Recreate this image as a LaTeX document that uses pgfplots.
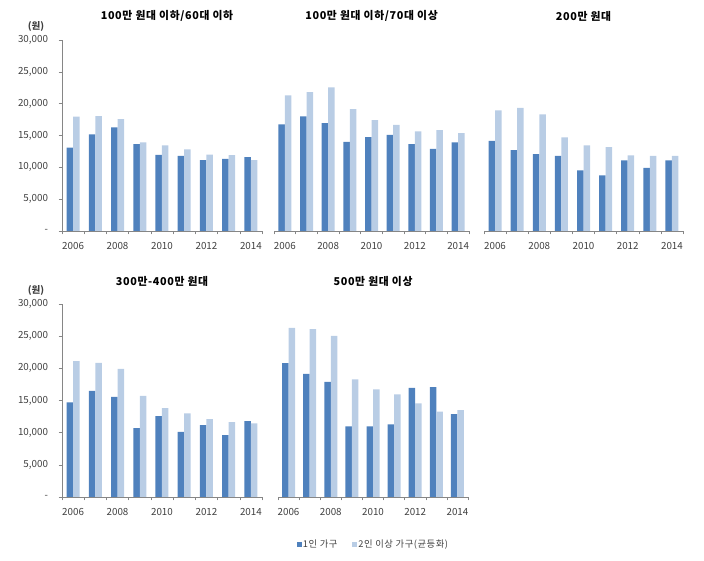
\documentclass[border=0pt]{standalone}
\usepackage{fontspec}
\setmainfont{Noto Sans CJK KR}
\newfontfamily\wide[LetterSpace=6]{Noto Sans CJK KR}
\usepackage{pgfplots}
\pgfplotsset{compat=1.18}
\definecolor{oneP}{HTML}{4F81BD}
\definecolor{twoP}{HTML}{B9CDE5}
\definecolor{axgray}{HTML}{868686}
\definecolor{txt}{HTML}{404040}

\pgfplotsset{
  panel/.style={
    scale only axis, anchor=south west,
    ybar=0pt, bar width=6.5pt,
    ymin=0, ymax=30000, xmin=-0.5, xmax=8.5,
    scaled y ticks=false,
    axis x line*=bottom,
    axis line style={draw=axgray,-},
    tick style={draw=axgray, line width=0.5pt},
    tick align=outside, major tick length=3.5pt,
    xtick={-0.5,0.5,...,8.5}, xticklabels={},
    extra x ticks={0,2,4,6,8},
    extra x tick labels={2006,2008,2010,2012,2014},
    extra x tick style={major tick length=0pt, xticklabel style={yshift=-8pt}},
    ticklabel style={font=\fontsize{9.8}{11}\selectfont, text=txt},
    title style={font=\wide\fontsize{10.8}{12}\selectfont\bfseries, at={(0.5,1)}, anchor=center, yshift=18pt},
    clip=false,
  },
  lefty/.style={
    axis y line*=left,
    ytick={0,5000,10000,15000,20000,25000,30000},
    yticklabels={-,{5,000},{10,000},{15,000},{20,000},{25,000},{30,000}},
    yticklabel style={xshift=-7pt},
  },
  noy/.style={axis y line=none, ytick=\empty},
  one/.style={fill=oneP, draw=none, legend image code/.code={\fill[oneP] (0pt,-2.5pt) rectangle (5pt,2.5pt);}},
  two/.style={fill=twoP, draw=none, legend image code/.code={\fill[twoP] (0pt,-2.5pt) rectangle (5pt,2.5pt);}},
}

\begin{document}
\begin{tikzpicture}
\path[use as bounding box] (0,0) rectangle (704pt,561pt);

% top row
\begin{axis}[panel, lefty, at={(62pt,330pt)}, width=200pt, height=191pt,
  title={100만 원대 이하/60대 이하}, title style={xshift=5pt}]
\addplot[one] coordinates {(0,13090) (1,15180) (2,16280) (3,13660) (4,11940) (5,11780) (6,11150) (7,11310) (8,11620)};
\addplot[two] coordinates {(0,17960) (1,18060) (2,17590) (3,13930) (4,13460) (5,12830) (6,11990) (7,11900) (8,11150)};
\node[font=\fontsize{9.5}{10}\selectfont\bfseries, text=txt] at (rel axis cs:0,1) [xshift=-26pt, yshift=14pt] {(원)};
\end{axis}

\begin{axis}[panel, noy, at={(274pt,330pt)}, width=195pt, height=191pt,
  title={100만 원대 이하/70대 이상}]
\addplot[one] coordinates {(0,16750) (1,18000) (2,16960) (3,13980) (4,14760) (5,15080) (6,13660) (7,12880) (8,13930)};
\addplot[two] coordinates {(0,21300) (1,21830) (2,22570) (3,19160) (4,17430) (5,16650) (6,15650) (7,15860) (8,15390)};
\end{axis}

\begin{axis}[panel, noy, at={(484pt,330pt)}, width=199pt, height=191pt,
  title={200만 원대}]
\addplot[one] coordinates {(0,14140) (1,12720) (2,12090) (3,11780) (4,9530) (5,8740) (6,11100) (7,9900) (8,11100)};
\addplot[two] coordinates {(0,18950) (1,19320) (2,18320) (3,14710) (4,13460) (5,13190) (6,11880) (7,11780) (8,11780)};
\end{axis}

% bottom row
\begin{axis}[panel, lefty, at={(62pt,64pt)}, width=200pt, height=193pt,
  title={300만-400만 원대}, title style={yshift=-1pt}]
\addplot[one] coordinates {(0,14720) (1,16480) (2,15550) (3,10710) (4,12580) (5,10140) (6,11180) (7,9620) (8,11800)};
\addplot[two] coordinates {(0,21110) (1,20850) (2,19920) (3,15700) (4,13830) (5,13000) (6,12120) (7,11650) (8,11440)};
\node[font=\fontsize{9.5}{10}\selectfont\bfseries, text=txt] at (rel axis cs:0,1) [xshift=-26pt, yshift=14pt] {(원)};
\end{axis}

\begin{axis}[panel, noy, at={(278pt,64pt)}, width=190pt, height=193pt,
  title={500만 원대 이상}, title style={yshift=-1pt},
  legend style={at={(0.5,-0.245)}, anchor=center, draw=none, fill=none,
    legend columns=2, font=\wide\fontsize{9.3}{10}\selectfont, text=txt,
    nodes={inner sep=1pt},
    /tikz/every even column/.append style={column sep=14pt}}]
\addplot[one] coordinates {(0,20800) (1,19140) (2,17890) (3,10970) (4,10970) (5,11280) (6,16950) (7,17060) (8,12900)};
\addplot[two] coordinates {(0,26300) (1,26100) (2,25060) (3,18300) (4,16740) (5,15960) (6,14560) (7,13260) (8,13520)};
\legend{1인 가구, 2인 이상 가구(균등화)}
\end{axis}
\end{tikzpicture}
\end{document}
